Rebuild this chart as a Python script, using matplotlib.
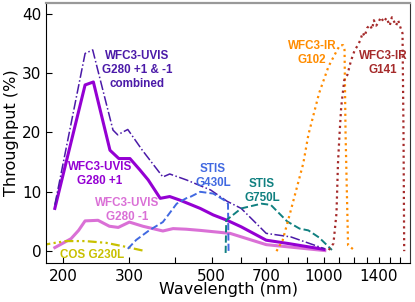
import numpy as np
import matplotlib.pyplot as plt
from matplotlib.ticker import FixedLocator, NullFormatter, NullLocator

# WFC3-UVIS G280 +1
p1_wl = [190, 229, 241, 267, 282, 302, 321, 338, 364, 386, 411, 466, 505, 550, 600, 700, 800, 1000]
p1_tp = [7.2, 28.0, 28.5, 17.0, 15.6, 15.6, 13.7, 12.0, 8.9, 9.2, 8.6, 7.2, 6.1, 5.2, 4.1, 1.85, 1.3, 0.3]

# WFC3-UVIS G280 +1 & -1 combined
cb_wl = [190, 229, 240, 272, 280, 298, 326, 370, 386, 428, 497, 550, 600, 700, 815, 1005]
cb_tp = [7.8, 33.3, 33.9, 20.4, 19.6, 20.5, 17.0, 12.5, 13.0, 12.0, 10.3, 8.4, 7.2, 3.0, 2.4, 0.4]

# WFC3-UVIS G280 -1
m1_wl = [190, 210, 220, 229, 248, 266, 281, 301, 327, 370, 394, 427, 466, 560, 608, 700, 1005]
m1_tp = [0.6, 2.1, 3.5, 5.1, 5.2, 4.2, 4.0, 4.9, 4.2, 3.4, 3.8, 3.7, 3.5, 3.0, 2.3, 1.1, 0.1]

# COS G230L
cos_wl = [175, 190, 204, 229, 261, 296, 327]
cos_tp = [1.0, 1.4, 1.7, 1.7, 1.4, 0.7, 0.1]

# STIS G430L
s4_wl = [298, 314, 340, 370, 403, 427, 440, 466, 505, 540, 553, 555]
s4_tp = [0.4, 1.9, 3.5, 4.9, 8.0, 8.9, 9.2, 10.0, 9.7, 8.6, 8.0, -0.3]

# STIS G750L
s7_wl = [545, 547, 600, 680, 720, 797, 860, 908, 970, 1050]
s7_tp = [-0.3, 5.2, 7.2, 8.0, 7.8, 5.0, 3.8, 3.5, 2.3, 0.2]

# WFC3-IR G102
g102_wl = [746, 775, 815, 880, 908, 970, 1028, 1085, 1103, 1125, 1135, 1142, 1160, 1215]
g102_tp = [0.0, 1.85, 6.9, 14.8, 19.6, 26.6, 31.1, 33.9, 34.7, 34.7, 33.9, 20.0, 1.0, 0.0]

# WFC3-IR G141
g141_wl = [1030, 1060, 1080, 1090, 1100, 1112, 1133, 1155, 1180, 1209, 1230, 1250, 1270, 1285,
           1305, 1327, 1345, 1360, 1380, 1395, 1420, 1446, 1470, 1500, 1520, 1540, 1560, 1580,
           1600, 1623, 1633, 1640]
g141_tp = [0.2, 1.3, 6.4, 14.8, 19.5, 24.3, 28.8, 29.7, 32.0, 33.9, 34.6, 35.5, 36.8, 36.2,
           37.6, 38.1, 37.4, 38.9, 38.0, 38.4, 39.4, 38.6, 39.3, 38.0, 39.4, 38.7, 38.0, 38.9,
           37.8, 36.7, 20.0, 0.0]

xticks_major = [200, 300, 500, 700, 1000, 1400]
xticks_all = list(range(200, 1000, 100)) + list(range(1000, 1700, 100))

fig = plt.figure(figsize=(4.15, 3.02), dpi=100)
ax = fig.add_axes([0.111, 0.129, 0.877, 0.861])

c_p1 = '#9400d3'
c_cb = '#4b1aa8'
c_m1 = '#da70d6'
c_cos = '#c8c000'
c_s4 = '#4169e1'
c_s7 = '#108080'
c_g102 = '#ff8c00'
c_g141 = '#a52a2a'

ax.plot(m1_wl, m1_tp, '-', color=c_m1, lw=2.2)
ax.plot(p1_wl, p1_tp, '-', color=c_p1, lw=2.2)
ax.plot(cb_wl, cb_tp, '-.', color=c_cb, lw=1.1)
ax.plot(cos_wl, cos_tp, color=c_cos, lw=1.6, dashes=[4, 1.5, 1, 1.5, 1, 1.5])
ax.plot(s4_wl, s4_tp, '--', color=c_s4, lw=1.4)
ax.plot(s7_wl, s7_tp, '--', color=c_s7, lw=1.4)
ax.plot(g102_wl, g102_tp, ':', color=c_g102, lw=1.6)
ax.plot(g141_wl, g141_tp, ':', color=c_g141, lw=1.6)

tkw = dict(ha='center', va='center', fontsize=8.4, fontweight='bold',
           family='Liberation Sans', linespacing=1.2)
ax.text(316, 30.5, 'WFC3-UVIS\nG280 +1 & -1\ncombined', color=c_cb, **tkw)
ax.text(251, 13.0, 'WFC3-UVIS\nG280 +1', color=c_p1, **tkw)
ax.text(296, 6.9, 'WFC3-UVIS\nG280 -1', color=c_m1, **tkw)
ax.text(239, -0.6, 'COS G230L', color=c_cos, **tkw)
ax.text(504, 12.6, 'STIS\nG430L', color=c_s4, **tkw)
ax.text(682, 10.1, 'STIS\nG750L', color=c_s7, **tkw)
ax.text(929, 33.4, 'WFC3-IR\nG102', color=c_g102, **tkw)
ax.text(1438, 31.7, 'WFC3-IR\nG141', color=c_g141, **tkw)

ax.set_xscale('log')
ax.set_xlim(180, 1700)
ax.set_ylim(-2, 41.8)
ax.xaxis.set_major_locator(FixedLocator(xticks_major))
ax.xaxis.set_minor_locator(FixedLocator([t for t in xticks_all if t not in xticks_major]))
ax.set_xticklabels([str(t) for t in xticks_major])
ax.xaxis.set_minor_formatter(NullFormatter())
ax.set_yticks([0, 10, 20, 30, 40])
ax.tick_params(axis='both', which='both', direction='in', length=4, width=0.8,
               labelsize=11, top=False, right=False)
ax.tick_params(axis='x', which='both', pad=4)

ax.spines['top'].set_color('#999999')
ax.spines['top'].set_linewidth(1.6)
ax.spines['right'].set_color('#333333')

ax.set_xlabel('Wavelength (nm)', fontsize=11.5, labelpad=-1)
ax.set_ylabel('Throughput (%)', fontsize=11.5, labelpad=2)

fig.savefig('out.png', dpi=100)
